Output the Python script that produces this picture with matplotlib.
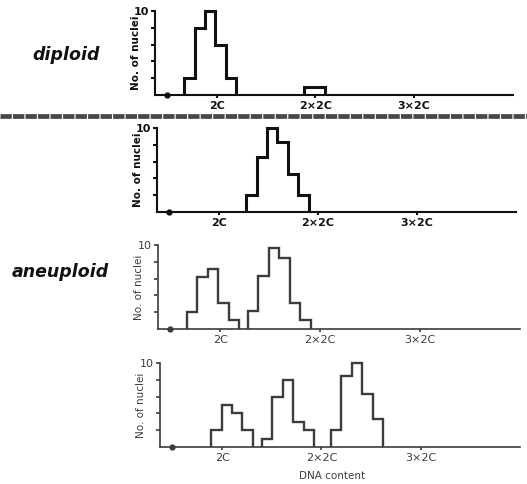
import matplotlib
matplotlib.use("Agg")
import matplotlib.pyplot as plt
from matplotlib.lines import Line2D

# histogram data (x in units of C, counts = number of nuclei)
bin_w = 0.21
diploid_starts = [1.34, 3.77]
diploid_counts = [[2, 8, 10, 6, 2], [1, 1]]
aneu1_starts = [2.55]
aneu1_counts = [[2, 6.5, 10, 8.3, 4.5, 2]]
aneu2_starts = [1.33, 2.55]
aneu2_counts = [[2, 6.2, 7.1, 3.1, 1.1], [2.1, 6.3, 9.6, 8.4, 3.1, 1.1]]
aneu3_starts = [1.78, 2.80, 4.19]
aneu3_counts = [[2, 5, 4, 2], [1, 6, 8, 3, 2], [2, 8.4, 10, 6.3, 3.3]]

tick_pos = [2, 4, 6]
tick_labels = ["2C", "2×2C", "3×2C"]

W, H = 527, 484
fig = plt.figure(figsize=(W / 100, H / 100), dpi=100)

# (left, right, top, baseline) in pixels
boxes = [(155, 513, 11, 95), (157, 516, 128, 212),
         (158, 520, 245, 329), (160, 520, 363, 447)]
data = [(diploid_starts, diploid_counts), (aneu1_starts, aneu1_counts),
        (aneu2_starts, aneu2_counts), (aneu3_starts, aneu3_counts)]

for i, ((l, r, t, b), (starts, counts)) in enumerate(zip(boxes, data)):
    bold = i < 2
    col = "#111111" if bold else "#3c3c3c"
    hist_lw = 2.2 if bold else 1.7
    ax_lw = 1.5 if bold else 1.2
    weight = "bold" if bold else "normal"

    ax = fig.add_axes([l / W, 1 - b / H, (r - l) / W, (b - t) / H])
    for s, c in zip(starts, counts):
        edges = [s + k * bin_w for k in range(len(c) + 1)]
        ax.stairs(c, edges, baseline=0, color=col, lw=hist_lw, clip_on=False)
    ax.plot([1], [0], "o", color=col, ms=3.5, clip_on=False)

    ax.set_xlim(0.75, 8.0)
    ax.set_ylim(0, 10)
    for sp in ["top", "right"]:
        ax.spines[sp].set_visible(False)
    for sp in ["left", "bottom"]:
        ax.spines[sp].set_linewidth(ax_lw)
        ax.spines[sp].set_color(col)

    ax.set_yticks([2, 4, 6, 8, 10])
    ax.set_yticklabels(["", "", "", "", "10"], fontsize=8, fontweight=weight, color=col)
    ax.set_xticks(tick_pos)
    ax.set_xticklabels(tick_labels, fontsize=8, fontweight=weight, color=col)
    ax.tick_params(axis="y", direction="out", length=3, width=ax_lw, pad=1.5, colors=col)
    ax.tick_params(axis="x", direction="out", length=2.5, width=ax_lw, pad=2, colors=col)

    fig.text((l - 19) / W, 1 - (t + b) / 2 / H, "No. of nuclei", rotation=90,
             ha="center", va="center", fontsize=7.5, fontweight=weight, color=col)

fig.text(332 / W, 1 - 476 / H, "DNA content", ha="center", va="center",
         fontsize=7.5, color="#3c3c3c")

fig.text(66 / W, 1 - 55 / H, "diploid", ha="center", va="center",
         fontsize=12.5, fontweight="heavy", fontstyle="italic", color="#111111")
fig.text(60 / W, 1 - 272 / H, "aneuploid", ha="center", va="center",
         fontsize=12.5, fontweight="heavy", fontstyle="italic", color="#111111")

# dashed separator between diploid and aneuploid
fig.add_artist(Line2D([0, 1], [1 - 116 / H, 1 - 116 / H], transform=fig.transFigure,
                      color="#484848", lw=3.4, dashes=[2.4, 0.25], dash_capstyle="butt"))

fig.savefig("out.png", dpi=100)
